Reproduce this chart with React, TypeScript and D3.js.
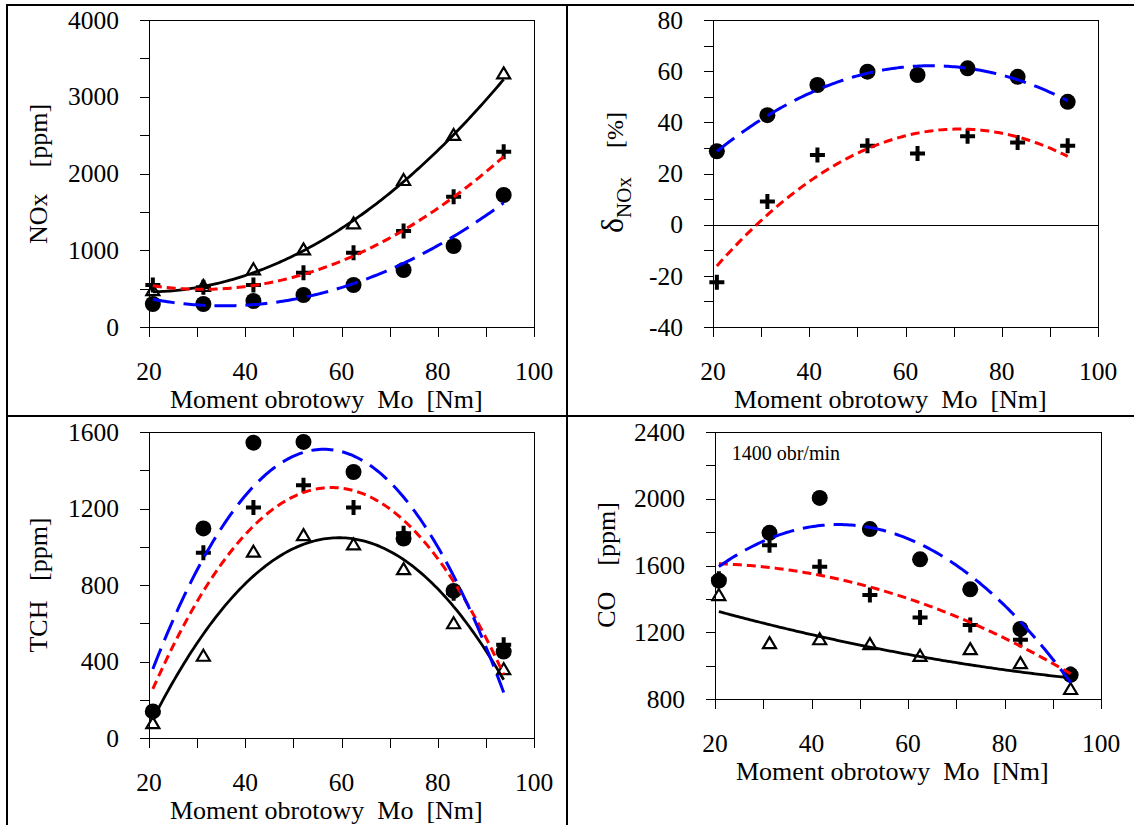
import React from 'react';
import * as d3 from 'd3';

// torque values (x) shared by all four charts
const moment = [20.8, 31.3, 41.7, 52.1, 62.5, 72.9, 83.3, 93.7];

// NOx [ppm]
const noxTriangle = [480, 534, 752, 1012, 1351, 1915, 2502, 3305];
const noxPlus = [547, 517, 547, 708, 968, 1251, 1698, 2284];
const noxCircle = [300, 300, 339, 417, 547, 743, 1055, 1720];
const noxTrendBlack = [457, 530, 704, 1000, 1391, 1891, 2500, 3230];
const noxTrendRed = [530, 487, 543, 717, 935, 1239, 1652, 2252];
const noxTrendBlue = [361, 283, 296, 378, 565, 826, 1196, 1609];

// delta NOx [%]
const deltaPlus = [-22.5, 9.1, 27.2, 30.8, 27.8, 34.6, 32.1, 30.8];
const deltaCircle = [28.7, 42.8, 54.6, 59.8, 58.5, 61.1, 57.8, 48.0];
const deltaTrendRed = [-16.6, 4.3, 19.3, 29.8, 35.6, 37.2, 33.7, 27.2];
const deltaTrendBlue = [29.1, 41.5, 53.3, 59.4, 61.7, 61.1, 56.9, 48.3];

// TCH [ppm]
const tchTriangle = [78, 430, 974, 1061, 1012, 883, 600, 360];
const tchPlus = [135, 969, 1205, 1322, 1205, 1070, 757, 487];
const tchCircle = [139, 1096, 1544, 1548, 1391, 1043, 769, 452];
const tchTrendBlack = [113, 530, 843, 1000, 1043, 948, 704, 287];
const tchTrendRed = [270, 739, 1113, 1296, 1304, 1130, 809, 339];
const tchTrendBlue = [350, 935, 1330, 1520, 1490, 1200, 843, 261];

// CO [ppm]
const coTriangle = [1423, 1135, 1158, 1129, 1059, 1099, 1015, 860];
const coPlus = [1520, 1722, 1593, 1423, 1288, 1244, 1155, 950];
const coCircle = [1509, 1796, 2005, 1818, 1637, 1457, 1220, 945];
const coTrendBlack = [1324, 1244, 1178, 1111, 1051, 1005, 965, 925];
const coTrendRed = [1609, 1593, 1543, 1463, 1374, 1264, 1125, 945];
const coTrendBlue = [1597, 1762, 1832, 1828, 1722, 1543, 1284, 885];

const xTickLabels = [20, 40, 60, 80, 100];

// second order trendline (like excel) - least squares
function fitQuadratic(xs: number[], ys: number[]) {
  const c = 57;
  let s1 = 0, s2 = 0, s3 = 0, s4 = 0, t0 = 0, t1 = 0, t2 = 0;
  const s0 = xs.length;
  xs.forEach((xv, i) => {
    const u = xv - c;
    const v = ys[i];
    s1 += u; s2 += u * u; s3 += u ** 3; s4 += u ** 4;
    t0 += v; t1 += u * v; t2 += u * u * v;
  });
  const m = [[s0, s1, s2, t0], [s1, s2, s3, t1], [s2, s3, s4, t2]];
  for (let i = 0; i < 3; i++) {
    for (let k = i + 1; k < 3; k++) {
      const f = m[k][i] / m[i][i];
      for (let j = i; j < 4; j++) m[k][j] -= f * m[i][j];
    }
  }
  const r = [0, 0, 0];
  for (let i = 2; i >= 0; i--) {
    let s = m[i][3];
    for (let j = i + 1; j < 3; j++) s -= m[i][j] * r[j];
    r[i] = s / m[i][i];
  }
  return (xv: number) => r[0] + r[1] * (xv - c) + r[2] * (xv - c) ** 2;
}

type Trend = { values: number[]; color: string; dash?: string; width: number };
type Props = {
  left: number; right: number; top: number; bottom: number;
  yDomain: [number, number]; yMajor: number; yMinor: number;
  triangles?: number[]; pluses?: number[]; circles: number[];
  trends: Trend[];
  zeroLine?: boolean;
  yTitle: React.ReactNode;
};

const FONT = 25.5;

function Chart(p: Props) {
  const x = d3.scaleLinear().domain([20, 100]).range([p.left, p.right]);
  const y = d3.scaleLinear().domain(p.yDomain).range([p.bottom, p.top]);
  const xTicks = d3.range(20, 100.001, 10);
  const yTicks = d3.range(p.yDomain[0], p.yDomain[1] + 1e-6, p.yMinor);
  const yLabels = d3.range(p.yDomain[0], p.yDomain[1] + 1e-6, p.yMajor);
  const line = d3.line<number>().x(d => x(d[0])).y(d => y(d[1]));
  const xs = d3.range(moment[0], moment[moment.length - 1], 0.5).concat([moment[moment.length - 1]]);

  return (
    <g>
      {/* frame */}
      <rect x={p.left + 0.5} y={p.top + 0.5} width={p.right - p.left} height={p.bottom - p.top}
        fill="none" stroke="#000" strokeWidth={1} shapeRendering="crispEdges" />
      {p.zeroLine && (
        <line x1={p.left} x2={p.right} y1={Math.round(y(0)) + 0.5} y2={Math.round(y(0)) + 0.5}
          stroke="#000" strokeWidth={1} shapeRendering="crispEdges" />
      )}
      {xTicks.map(t => (
        <line key={'xt' + t} x1={Math.round(x(t)) + 0.5} x2={Math.round(x(t)) + 0.5} y1={p.bottom} y2={p.bottom + 10}
          stroke="#000" shapeRendering="crispEdges" />
      ))}
      {yTicks.map(t => (
        <line key={'yt' + t} x1={p.left - 9} x2={p.left} y1={Math.round(y(t)) + 0.5} y2={Math.round(y(t)) + 0.5}
          stroke="#000" shapeRendering="crispEdges" />
      ))}
      {xTickLabels.map(t => (
        <text key={'xl' + t} x={x(t)} y={p.bottom + 53} textAnchor="middle" fontSize={FONT}>{t}</text>
      ))}
      {yLabels.map(t => (
        <text key={'yl' + t} x={p.left - 30} y={y(t)} dy="0.34em" textAnchor="end" fontSize={FONT}>{t}</text>
      ))}
      <text x={p.left + 21} y={p.bottom + 81} fontSize={26} style={{ whiteSpace: 'pre' }}>
        {'Moment obrotowy  Mo  [Nm]'}
      </text>
      {p.yTitle}

      {/* markers */}
      {p.triangles && p.triangles.map((v, i) => (
        <path key={'tr' + i} transform={`translate(${x(moment[i])},${y(v)})`}
          d="M0,-6L6.5,5L-6.5,5Z" fill="none" stroke="#000" strokeWidth={2.2} />
      ))}
      {p.pluses && p.pluses.map((v, i) => (
        <path key={'pl' + i} transform={`translate(${x(moment[i])},${y(v)})`}
          d="M-7.5,0H7.5M0,-7.5V7.5" stroke="#000" strokeWidth={4} />
      ))}
      {p.circles.map((v, i) => (
        <circle key={'ci' + i} cx={x(moment[i])} cy={y(v)} r={8} fill="#000" />
      ))}

      {/* trendlines */}
      {p.trends.map((tr, i) => {
        const f = fitQuadratic(moment, tr.values);
        return (
          <path key={'tl' + i} d={line(xs.map(v => [v, f(v)]) as any) || ''} fill="none"
            stroke={tr.color} strokeWidth={tr.width} strokeDasharray={tr.dash} />
        );
      })}
    </g>
  );
}

const black = (values: number[]): Trend => ({ values, color: '#000', width: 2.8 });
const red = (values: number[]): Trend => ({ values, color: '#FF0000', width: 3, dash: '9,5' });
const blue = (values: number[]): Trend => ({ values, color: '#0000FF', width: 3, dash: '22,9' });

export default function App() {
  return (
    <svg width={1134} height={825} style={{ position: 'absolute', left: 0, top: 0, background: '#fff' }}
      fontFamily="'Liberation Serif', 'Times New Roman', serif">
      <rect x={0} y={0} width={1134} height={825} fill="#fff" />

      <Chart left={149} right={534} top={20} bottom={327} yDomain={[0, 4000]} yMajor={1000} yMinor={500}
        triangles={noxTriangle} pluses={noxPlus} circles={noxCircle}
        trends={[black(noxTrendBlack), red(noxTrendRed), blue(noxTrendBlue)]}
        yTitle={
          <text transform="translate(38.7,174) rotate(-90)" dy="0.33em" textAnchor="middle" fontSize={26}
            style={{ whiteSpace: 'pre' }}>{'NOx    [ppm]'}</text>
        } />

      <Chart left={713} right={1098} top={20} bottom={327} yDomain={[-40, 80]} yMajor={20} yMinor={10}
        pluses={deltaPlus} circles={deltaCircle} zeroLine
        trends={[red(deltaTrendRed), blue(deltaTrendBlue)]}
        yTitle={
          <text transform="translate(623,233) rotate(-90)">
            <tspan x={0} y={0} fontSize={32}>δ</tspan>
            <tspan dy={7.6} fontSize={21}>NOx</tspan>
            <tspan x={85} dy={-7.6} fontSize={24}>[%]</tspan>
          </text>
        } />

      <Chart left={149} right={534} top={432} bottom={738} yDomain={[0, 1600]} yMajor={400} yMinor={200}
        triangles={tchTriangle} pluses={tchPlus} circles={tchCircle}
        trends={[black(tchTrendBlack), red(tchTrendRed), blue(tchTrendBlue)]}
        yTitle={
          <text transform="translate(38.7,585) rotate(-90)" dy="0.33em" textAnchor="middle" fontSize={26}
            style={{ whiteSpace: 'pre' }}>{'TCH   [ppm]'}</text>
        } />

      <Chart left={715} right={1101} top={432} bottom={699} yDomain={[800, 2400]} yMajor={400} yMinor={200}
        triangles={coTriangle} pluses={coPlus} circles={coCircle}
        trends={[black(coTrendBlack), red(coTrendRed), blue(coTrendBlue)]}
        yTitle={
          <text transform="translate(606.9,565) rotate(-90)" dy="0.33em" textAnchor="middle" fontSize={26}
            style={{ whiteSpace: 'pre' }}>{'CO    [ppm]'}</text>
        } />
      <text x={731.7} y={460} fontSize={20}>1400 obr/min</text>

      {/* table borders */}
      <g stroke="#000" strokeWidth={2}>
        <line x1={7} x2={7} y1={4} y2={825} />
        <line x1={6} x2={1134} y1={5} y2={5} />
        <line x1={567} x2={567} y1={4} y2={825} />
        <line x1={6} x2={1134} y1={416} y2={416} />
      </g>
    </svg>
  );
}
